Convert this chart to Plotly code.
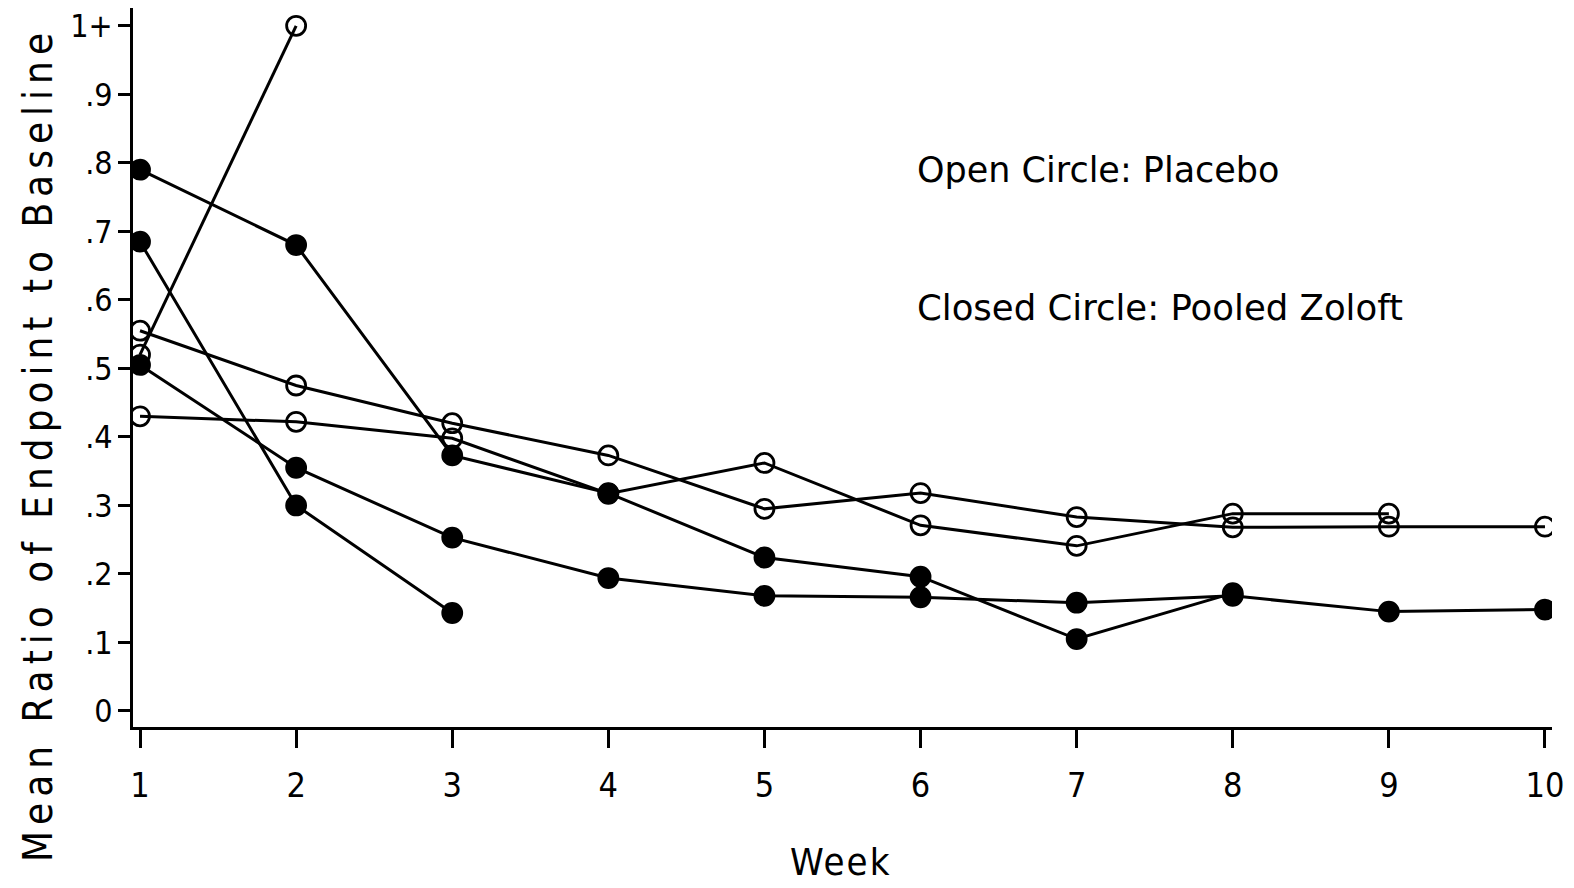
import plotly.graph_objects as go

weeks = [1, 2, 3, 4, 5, 6, 7, 8, 9, 10]

# Placebo (open circles)
placebo_a = [0.52, 1.00]
placebo_b = [0.555, 0.475, 0.42, 0.373, 0.295, 0.318, 0.283, 0.268, 0.269, 0.269]
placebo_c = [0.43, 0.422, 0.398, 0.317, 0.362, 0.271, 0.241, 0.288, 0.288]

# Pooled Zoloft (closed circles)
zoloft_a = [0.79, 0.68, 0.373, 0.318, 0.224, 0.196, 0.105, 0.172]
zoloft_b = [0.505, 0.355, 0.253, 0.194, 0.168, 0.166, 0.158, 0.168, 0.145, 0.148]
zoloft_c = [0.685, 0.30, 0.143]

ytick_vals = [0, 0.1, 0.2, 0.3, 0.4, 0.5, 0.6, 0.7, 0.8, 0.9, 1.0]
ytick_text = ["0", ".1", ".2", ".3", ".4", ".5", ".6", ".7", ".8", ".9", "1+"]
xtick_text = ["1", "2", "3", "4", "5", "6", "7", "8", "9", "10"]

W, H = 1574, 888
ML, MR, MT, MB = 133, 22, 8, 161
PW, PH = W - ML - MR, H - MT - MB

def px(xp):
    return (xp - ML) / PW

def py(yp):
    return (H - MB - yp) / PH

cond = "DejaVu Sans Condensed, Liberation Sans Narrow, Roboto Condensed, DejaVu Sans, sans-serif"
round_font = "DejaVu Sans, Noto Sans, sans-serif"

fig = go.Figure()

def add_series(ys, filled):
    fig.add_trace(go.Scatter(
        x=weeks[:len(ys)], y=ys, mode="lines+markers",
        line=dict(color="black", width=3),
        marker=dict(
            symbol="circle" if filled else "circle-open",
            size=19,
            color="black",
            line=dict(color="black", width=2.8),
        ),
        showlegend=False, hoverinfo="x+y",
    ))

for s in (placebo_a, placebo_b, placebo_c):
    add_series(s, False)
for s in (zoloft_a, zoloft_b, zoloft_c):
    add_series(s, True)

fig.update_layout(
    width=W, height=H,
    margin=dict(l=ML, r=MR, t=MT, b=MB),
    paper_bgcolor="white", plot_bgcolor="white",
    xaxis=dict(
        range=[0.955, 10.045], tickvals=weeks, ticktext=xtick_text,
        showgrid=False, zeroline=False,
        showline=True, linecolor="black", linewidth=3,
        ticks="outside", ticklen=18, tickwidth=2.5, tickcolor="black",
        tickfont=dict(family=cond, size=34, color="black"),
        ticklabelstandoff=8,
    ),
    yaxis=dict(
        range=[-0.0234, 1.026], tickvals=ytick_vals, ticktext=ytick_text,
        showgrid=False, zeroline=False,
        showline=True, linecolor="black", linewidth=3,
        ticks="outside", ticklen=12, tickwidth=2.5, tickcolor="black",
        tickfont=dict(family=cond, size=32, color="black"),
        ticklabelstandoff=-1,
    ),
    annotations=[
        dict(text='<span style="letter-spacing:6px">Mean Ratio of Endpoint to Baseline</span>',
             x=px(38), y=py(445),
             xref="paper", yref="paper", textangle=-90, showarrow=False,
             xanchor="center", yanchor="middle",
             font=dict(family=cond, size=40, color="black")),
        dict(text='<span style="letter-spacing:2px">Week</span>', x=px(840), y=py(862),
             xref="paper", yref="paper",
             showarrow=False, xanchor="center", yanchor="middle",
             font=dict(family=cond, size=38, color="black")),
        dict(text="Open Circle: Placebo", x=px(915), y=py(170), xref="paper", yref="paper",
             showarrow=False, xanchor="left", yanchor="middle",
             font=dict(family=round_font, size=35, color="black")),
        dict(text="Closed Circle: Pooled Zoloft", x=px(915), y=py(307), xref="paper", yref="paper",
             showarrow=False, xanchor="left", yanchor="middle",
             font=dict(family=round_font, size=35.5, color="black")),
    ],
)

fig.write_html("out.html")
